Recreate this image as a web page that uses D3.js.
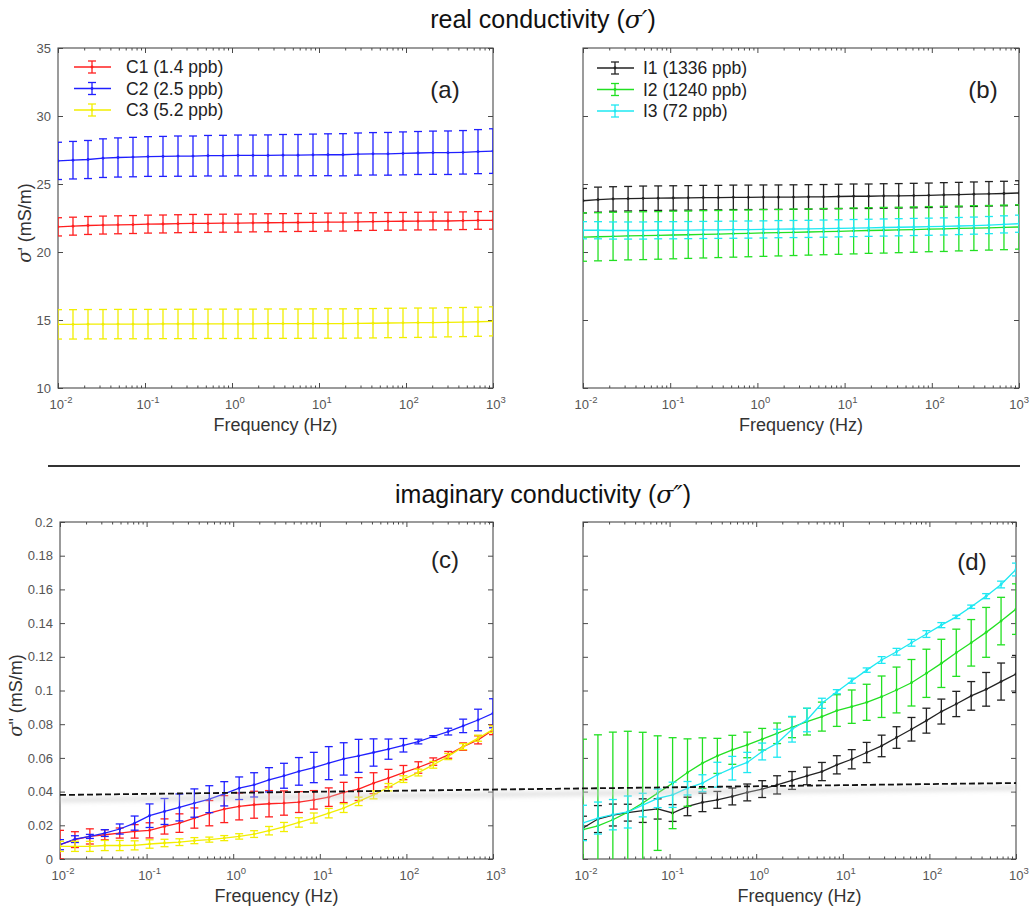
<!DOCTYPE html>
<html>
<head>
<meta charset="utf-8">
<script src="https://cdn.jsdelivr.net/npm/d3@7"></script>
<style>
  body { margin: 0; background: #fff; }
  svg { display: block; font-family: Arial, 'Liberation Sans', sans-serif; }
</style>
</head>
<body>
<svg id="chart" width="1030" height="909"></svg>
<script>
'use strict'

// measurement frequencies (Hz), 30 log-spaced steps from 10^-2 to 10^3
const freqHz = [0.01, 0.01487, 0.02212, 0.0329, 0.04894, 0.07279, 0.1083, 0.161, 0.2395, 0.3562,
  0.5298, 0.788, 1.172, 1.743, 2.593, 3.857, 5.736, 8.532, 12.69, 18.87,
  28.07, 41.75, 62.1, 92.37, 137.4, 204.3, 303.9, 452.0, 672.3, 1000]
const decades = [1e-2, 1e-1, 1e0, 1e1, 1e2, 1e3]
const decadeExp = ['-2', '-1', '0', '1', '2', '3']

// real conductivity sigma' (mS/m)
const c1Real = [21.85, 21.9, 21.95, 21.98, 22.0, 22.02, 22.05, 22.06, 22.08, 22.1, 22.1, 22.12, 22.12, 22.14, 22.15,
  22.16, 22.17, 22.18, 22.2, 22.2, 22.22, 22.24, 22.25, 22.26, 22.27, 22.28, 22.28, 22.3, 22.32, 22.33]
const c1RealErr = [0.67, 0.66, 0.66, 0.66, 0.66, 0.66, 0.66, 0.66, 0.66, 0.66, 0.66, 0.66, 0.66, 0.66, 0.66,
  0.66, 0.66, 0.66, 0.66, 0.66, 0.65, 0.65, 0.65, 0.65, 0.65, 0.65, 0.65, 0.65, 0.65, 0.65]
const c2Real = [26.7, 26.75, 26.8, 26.9, 26.95, 26.98, 27.02, 27.03, 27.05, 27.05, 27.08, 27.08, 27.1, 27.1, 27.1,
  27.12, 27.12, 27.14, 27.15, 27.15, 27.2, 27.22, 27.22, 27.25, 27.28, 27.3, 27.3, 27.33, 27.38, 27.42]
const c2RealErr = [1.37, 1.38, 1.4, 1.42, 1.44, 1.45, 1.46, 1.47, 1.48, 1.48, 1.49, 1.5, 1.5, 1.5, 1.51,
  1.52, 1.52, 1.53, 1.54, 1.55, 1.55, 1.56, 1.57, 1.58, 1.58, 1.59, 1.6, 1.6, 1.62, 1.64]
const c3Real = [14.68, 14.68, 14.69, 14.69, 14.7, 14.7, 14.7, 14.71, 14.71, 14.71, 14.72, 14.72, 14.72, 14.72, 14.73,
  14.73, 14.73, 14.74, 14.74, 14.74, 14.75, 14.76, 14.78, 14.79, 14.8, 14.81, 14.83, 14.85, 14.87, 14.9]
const c3RealErr = [1.08, 1.08, 1.08, 1.08, 1.08, 1.08, 1.08, 1.08, 1.08, 1.08, 1.08, 1.08, 1.08, 1.08, 1.08,
  1.08, 1.08, 1.08, 1.08, 1.08, 1.08, 1.08, 1.08, 1.08, 1.08, 1.07, 1.07, 1.07, 1.07, 1.07]
const i1Real = [23.77, 23.85, 23.9, 23.92, 23.95, 23.96, 23.97, 23.98, 24.0, 24.0, 24.02, 24.02, 24.03, 24.03, 24.04,
  24.05, 24.06, 24.08, 24.1, 24.1, 24.12, 24.13, 24.15, 24.17, 24.2, 24.22, 24.25, 24.28, 24.3, 24.34]
const i1RealErr = [0.9, 0.92, 0.9, 0.9, 0.9, 0.9, 0.9, 0.9, 0.9, 0.9, 0.9, 0.9, 0.9, 0.9, 0.9,
  0.9, 0.9, 0.9, 0.9, 0.9, 0.9, 0.9, 0.9, 0.9, 0.9, 0.9, 0.9, 0.9, 0.9, 0.9]
const i2Real = [21.1, 21.12, 21.15, 21.18, 21.2, 21.22, 21.25, 21.27, 21.3, 21.32, 21.35, 21.37, 21.4, 21.42, 21.45,
  21.47, 21.5, 21.52, 21.55, 21.58, 21.6, 21.62, 21.65, 21.68, 21.7, 21.73, 21.76, 21.78, 21.81, 21.84]
const i2RealErr = [1.78, 1.77, 1.77, 1.76, 1.76, 1.75, 1.75, 1.74, 1.74, 1.73, 1.73, 1.72, 1.72, 1.71, 1.71,
  1.7, 1.7, 1.69, 1.69, 1.68, 1.68, 1.67, 1.67, 1.66, 1.66, 1.65, 1.65, 1.64, 1.64, 1.63]
const i3Real = [21.6, 21.6, 21.58, 21.58, 21.58, 21.6, 21.6, 21.61, 21.62, 21.63, 21.64, 21.65, 21.66, 21.68, 21.69,
  21.7, 21.72, 21.74, 21.76, 21.78, 21.8, 21.82, 21.84, 21.86, 21.88, 21.91, 21.94, 21.98, 22.03, 22.08]
const i3RealErr = [0.63, 0.63, 0.63, 0.63, 0.63, 0.63, 0.63, 0.63, 0.63, 0.63, 0.63, 0.63, 0.63, 0.63, 0.63,
  0.63, 0.63, 0.63, 0.63, 0.63, 0.63, 0.63, 0.63, 0.63, 0.63, 0.63, 0.63, 0.63, 0.63, 0.63]

// imaginary conductivity sigma'' (mS/m)
const c1Imag = [0.0085, 0.0115, 0.0134, 0.0144, 0.0154, 0.0164, 0.017, 0.0193, 0.0213, 0.0243, 0.0272, 0.0296, 0.0312, 0.0322, 0.0328,
  0.0332, 0.0338, 0.0351, 0.0367, 0.0395, 0.0415, 0.045, 0.048, 0.0513, 0.0543, 0.0578, 0.0618, 0.0667, 0.0707, 0.0766]
const c1ImagErr = [0.0085, 0.0047, 0.0045, 0.003, 0.003, 0.004, 0.0045, 0.0045, 0.0055, 0.006, 0.0075, 0.008, 0.008, 0.008, 0.0078,
  0.0072, 0.0062, 0.0055, 0.0055, 0.006, 0.0068, 0.0062, 0.0052, 0.0042, 0.0034, 0.0022, 0.002, 0.0022, 0.0024, 0.0028]
const c2Imag = [0.0085, 0.0118, 0.0134, 0.0154, 0.0178, 0.0213, 0.0257, 0.0282, 0.0306, 0.0332, 0.0355, 0.0387, 0.042, 0.044, 0.047,
  0.0494, 0.052, 0.0543, 0.0569, 0.0594, 0.0612, 0.0632, 0.0652, 0.0675, 0.0697, 0.0727, 0.0756, 0.079, 0.0825, 0.0865]
const c2ImagErr = [0.003, 0.002, 0.0012, 0.002, 0.003, 0.0042, 0.007, 0.0077, 0.008, 0.0084, 0.008, 0.0072, 0.0067, 0.0072, 0.0072,
  0.0074, 0.0082, 0.009, 0.0098, 0.0096, 0.0098, 0.0081, 0.006, 0.004, 0.0014, 0.0005, 0.002, 0.004, 0.0064, 0.0086]
const c3Imag = [0.0075, 0.0075, 0.0075, 0.008, 0.008, 0.0081, 0.0089, 0.0095, 0.01, 0.0109, 0.0115, 0.0124, 0.0134, 0.0148, 0.0168,
  0.019, 0.0217, 0.0243, 0.0272, 0.0302, 0.0342, 0.0381, 0.0426, 0.0474, 0.0513, 0.0559, 0.0608, 0.0667, 0.0717, 0.077]
const c3ImagErr = [0.003, 0.003, 0.003, 0.003, 0.003, 0.0027, 0.0025, 0.0022, 0.002, 0.0018, 0.0015, 0.0015, 0.0016, 0.002, 0.0025,
  0.0027, 0.0028, 0.003, 0.0028, 0.0026, 0.0025, 0.0024, 0.0022, 0.002, 0.002, 0.002, 0.0018, 0.0018, 0.0018, 0.002]
const i1Imag = [0.0184, 0.0237, 0.0261, 0.0275, 0.0287, 0.0297, 0.0273, 0.0312, 0.0336, 0.0351, 0.0371, 0.0395, 0.0415, 0.044, 0.0466,
  0.0493, 0.0519, 0.0559, 0.0592, 0.0632, 0.0671, 0.0721, 0.077, 0.0821, 0.0875, 0.092, 0.0968, 0.1007, 0.1053, 0.1098]
const i1ImagErr = [0.007, 0.008, 0.0065, 0.005, 0.007, 0.006, 0.005, 0.0055, 0.0055, 0.005, 0.005, 0.005, 0.005, 0.0054, 0.0053,
  0.0052, 0.0054, 0.0054, 0.0057, 0.006, 0.0064, 0.0064, 0.007, 0.0074, 0.0074, 0.0075, 0.0085, 0.01, 0.011, 0.011]
const i2Imag = [0.0174, 0.0197, 0.0233, 0.0278, 0.0332, 0.0391, 0.045, 0.0513, 0.0569, 0.0612, 0.0648, 0.0677, 0.0711, 0.0746, 0.0782,
  0.0815, 0.0845, 0.0881, 0.0904, 0.093, 0.0963, 0.1003, 0.1046, 0.1102, 0.1161, 0.1224, 0.1283, 0.1345, 0.1412, 0.1483]
const i2ImagErr = [0.0537, 0.054, 0.052, 0.048, 0.042, 0.034, 0.027, 0.02, 0.015, 0.0104, 0.0086, 0.0076, 0.0064, 0.0061, 0.0062,
  0.0079, 0.0086, 0.0094, 0.0099, 0.0107, 0.0123, 0.0136, 0.0138, 0.0143, 0.0143, 0.014, 0.0138, 0.0148, 0.0141, 0.015]
const i3Imag = [0.0214, 0.0243, 0.0263, 0.0279, 0.032, 0.036, 0.0381, 0.042, 0.045, 0.05, 0.0539, 0.0573, 0.0638, 0.0687, 0.077,
  0.0825, 0.0924, 0.0993, 0.1058, 0.1121, 0.1181, 0.123, 0.1283, 0.1335, 0.1388, 0.1437, 0.1497, 0.156, 0.1629, 0.1718]
const i3ImagErr = [0.0105, 0.0095, 0.009, 0.0095, 0.007, 0.0055, 0.0075, 0.004, 0.005, 0.0074, 0.007, 0.006, 0.005, 0.0083, 0.0076,
  0.007, 0.003, 0.0012, 0.0015, 0.0013, 0.002, 0.002, 0.002, 0.002, 0.0015, 0.001, 0.001, 0.0015, 0.002, 0.0038]

// reference level drawn across (c) and (d): value at 10^-2 Hz in (c), value at 10^3 Hz in (d)
const thresholdStart = 0.038
const thresholdEnd = 0.0451

const sampleNames = ['C1 (1.4 ppb)', 'C2 (2.5 ppb)', 'C3 (5.2 ppb)', 'I1 (1336 ppb)', 'I2 (1240 ppb)', 'I3 (72 ppb)']
const sampleColors = ['#ff1f1f', '#2020ff', '#f2ee00', '#222222', '#22e022', '#1ee8f2']

const makeSeries = (idx, values, errors) => ({ name: sampleNames[idx], color: sampleColors[idx], values, errors })

const panels = [
  {
    id: 'a', tag: '(a)', box: [58, 48, 493, 388], tagAt: [445, 98],
    yDomain: [10, 35], yTicks: [10, 15, 20, 25, 30, 35], yLabels: true, yMark: '\'', yTitleX: 31,
    legendAt: [74, 126, 67],
    series: [makeSeries(0, c1Real, c1RealErr), makeSeries(1, c2Real, c2RealErr), makeSeries(2, c3Real, c3RealErr)]
  },
  {
    id: 'b', tag: '(b)', box: [583, 48, 1019, 388], tagAt: [983, 98],
    yDomain: [10, 35], yTicks: [10, 15, 20, 25, 30, 35], yLabels: false,
    legendAt: [597, 643, 68],
    series: [makeSeries(3, i1Real, i1RealErr), makeSeries(4, i2Real, i2RealErr), makeSeries(5, i3Real, i3RealErr)]
  },
  {
    id: 'c', tag: '(c)', box: [60, 522, 493, 859], tagAt: [445, 568],
    yDomain: [0, 0.2], yTicks: [0, 0.02, 0.04, 0.06, 0.08, 0.1, 0.12, 0.14, 0.16, 0.18, 0.2], yLabels: true, yMark: '"', yTitleX: 22,
    series: [makeSeries(0, c1Imag, c1ImagErr), makeSeries(1, c2Imag, c2ImagErr), makeSeries(2, c3Imag, c3ImagErr)]
  },
  {
    id: 'd', tag: '(d)', box: [583, 522, 1016, 859], tagAt: [972, 570],
    yDomain: [0, 0.2], yTicks: [0, 0.02, 0.04, 0.06, 0.08, 0.1, 0.12, 0.14, 0.16, 0.18, 0.2], yLabels: false,
    series: [makeSeries(3, i1Imag, i1ImagErr), makeSeries(4, i2Imag, i2ImagErr), makeSeries(5, i3Imag, i3ImagErr)]
  }
]

const svg = d3.select('#chart')
const chartWidth = +svg.attr('width')
const axisColor = '#4a4a4a'
const labelColor = '#555'

const minorTicks = []
decades.slice(0, -1).forEach(d => {
  for (let k = 2; k <= 9; k++) minorTicks.push(d * k)
})

function tickAxis (g, axis) {
  g.call(axis)
  g.select('.domain').remove()
  g.selectAll('.tick line').attr('stroke', axisColor)
}

function drawErrorSeries (plot, s, x, y, capHalf) {
  const pts = freqHz.map((f, i) => ({ f, v: s.values[i], e: s.errors[i] }))
  const sg = plot.append('g').attr('stroke', s.color).attr('fill', s.color)

  sg.selectAll('line.bar').data(pts).join('line')
    .attr('class', 'bar')
    .attr('x1', d => x(d.f)).attr('x2', d => x(d.f))
    .attr('y1', d => y(d.v - d.e)).attr('y2', d => y(d.v + d.e))
    .attr('stroke-width', 1.3)

  ;['lo', 'hi'].forEach(side => {
    sg.selectAll('line.cap-' + side).data(pts).join('line')
      .attr('class', 'cap-' + side)
      .attr('x1', d => x(d.f) - capHalf).attr('x2', d => x(d.f) + capHalf)
      .attr('y1', d => y(side === 'lo' ? d.v - d.e : d.v + d.e))
      .attr('y2', d => y(side === 'lo' ? d.v - d.e : d.v + d.e))
      .attr('stroke-width', 1.3)
  })

  const line = d3.line().x(d => x(d.f)).y(d => y(d.v))
  sg.append('path').datum(pts)
    .attr('d', line)
    .attr('fill', 'none')
    .attr('stroke-width', 1.3)

  sg.selectAll('circle').data(pts).join('circle')
    .attr('cx', d => x(d.f)).attr('cy', d => y(d.v))
    .attr('r', 1.4)
    .attr('stroke', 'none')
}

function drawPanel (cfg) {
  const [left, top, right, bottom] = cfg.box
  const x = d3.scaleLog().domain([decades[0], decades[decades.length - 1]]).range([left, right])
  const y = d3.scaleLinear().domain(cfg.yDomain).range([bottom, top])
  const g = svg.append('g').attr('class', 'panel-' + cfg.id)

  g.append('clipPath').attr('id', 'clip-' + cfg.id)
    .append('rect')
    .attr('x', left).attr('y', top)
    .attr('width', right - left).attr('height', bottom - top)

  // inward ticks on all four sides, MATLAB box style
  tickAxis(g.append('g').attr('transform', `translate(0,${bottom})`),
    d3.axisBottom(x).tickValues(decades).tickSizeInner(-5).tickSizeOuter(0).tickFormat(''))
  tickAxis(g.append('g').attr('transform', `translate(0,${bottom})`),
    d3.axisBottom(x).tickValues(minorTicks).tickSizeInner(-2.5).tickSizeOuter(0).tickFormat(''))
  tickAxis(g.append('g').attr('transform', `translate(0,${top})`),
    d3.axisTop(x).tickValues(decades).tickSizeInner(-5).tickSizeOuter(0).tickFormat(''))
  tickAxis(g.append('g').attr('transform', `translate(0,${top})`),
    d3.axisTop(x).tickValues(minorTicks).tickSizeInner(-2.5).tickSizeOuter(0).tickFormat(''))
  tickAxis(g.append('g').attr('transform', `translate(${right},0)`),
    d3.axisRight(y).tickValues(cfg.yTicks).tickSizeInner(-5).tickSizeOuter(0).tickFormat(''))

  const yAxisG = g.append('g').attr('transform', `translate(${left},0)`)
  tickAxis(yAxisG, d3.axisLeft(y).tickValues(cfg.yTicks).tickSizeInner(-5).tickSizeOuter(0).tickPadding(7)
    .tickFormat(cfg.yLabels ? d3.format('~g') : ''))
  yAxisG.selectAll('.tick text')
    .attr('fill', labelColor)
    .style('font-size', '13px')
    .style('font-family', 'Arial, \'Liberation Sans\', sans-serif')

  g.append('rect')
    .attr('x', left).attr('y', top)
    .attr('width', right - left).attr('height', bottom - top)
    .attr('fill', 'none')
    .attr('stroke', axisColor)
    .attr('stroke-width', 1.1)

  // decade labels 10^n
  const xl = g.append('g').attr('fill', labelColor).style('font-size', '13px')
  decades.forEach((d, i) => {
    const t = xl.append('text')
      .attr('x', x(d) + 3).attr('y', bottom + 21)
      .attr('text-anchor', 'middle')
    t.append('tspan').text('10')
    t.append('tspan').attr('dy', -6).style('font-size', '9.5px').text(decadeExp[i])
    // keep the last label inside the picture
    const box = t.node().getBBox()
    if (box.x + box.width > chartWidth - 1) t.attr('x', x(d) - (box.x + box.width - chartWidth + 1) + 3)
  })

  g.append('text')
    .attr('x', (left + right) / 2).attr('y', bottom + 43)
    .attr('text-anchor', 'middle')
    .attr('fill', '#333')
    .style('font-size', '18px')
    .text('Frequency (Hz)')

  if (cfg.yMark) {
    const yt = g.append('text')
      .attr('transform', `translate(${cfg.yTitleX},${(top + bottom) / 2 + 5}) rotate(-90)`)
      .attr('text-anchor', 'middle')
      .attr('fill', '#333')
      .style('font-size', '18px')
    yt.append('tspan').style('font-style', 'italic').style('font-family', '\'DejaVu Serif\', serif').text('σ')
    yt.append('tspan').text(cfg.yMark + ' (mS/m)')
  }

  g.append('text')
    .attr('x', cfg.tagAt[0]).attr('y', cfg.tagAt[1])
    .attr('text-anchor', 'middle')
    .attr('fill', '#222')
    .style('font-size', '24px')
    .text(cfg.tag)

  const plot = g.append('g').attr('clip-path', `url(#clip-${cfg.id})`)
  cfg.series.forEach(s => drawErrorSeries(plot, s, x, y, 4))

  if (cfg.legendAt) {
    const [lx, tx, ly] = cfg.legendAt
    const lg = g.append('g')
    cfg.series.forEach((s, i) => {
      const cy = ly + i * 21.5
      const mid = lx + 18
      const row = lg.append('g').attr('stroke', s.color).attr('stroke-width', 1.3)
      row.append('line').attr('x1', lx).attr('x2', lx + 37).attr('y1', cy).attr('y2', cy)
      row.append('line').attr('x1', mid).attr('x2', mid).attr('y1', cy - 6).attr('y2', cy + 6)
      row.append('line').attr('x1', mid - 4).attr('x2', mid + 4).attr('y1', cy - 6).attr('y2', cy - 6)
      row.append('line').attr('x1', mid - 4).attr('x2', mid + 4).attr('y1', cy + 6).attr('y2', cy + 6)
      row.append('circle').attr('cx', mid).attr('cy', cy).attr('r', 1.4).attr('fill', s.color).attr('stroke', 'none')
      lg.append('text')
        .attr('x', tx).attr('y', cy + 6)
        .attr('fill', '#222')
        .style('font-size', '17.5px')
        .text(s.name)
    })
  }

  return { x, y }
}

const scales = panels.map(drawPanel)

// section titles and separator
const titleFont = '25px'
const realTitle = svg.append('text').attr('x', 543).attr('y', 28).attr('text-anchor', 'middle')
  .attr('fill', '#111').style('font-size', titleFont)
realTitle.append('tspan').text('real conductivity (')
realTitle.append('tspan').style('font-style', 'italic').style('font-family', '\'DejaVu Serif\', serif').text('σ′')
realTitle.append('tspan').text(')')

const imagTitle = svg.append('text').attr('x', 543).attr('y', 503).attr('text-anchor', 'middle')
  .attr('fill', '#111').style('font-size', titleFont)
imagTitle.append('tspan').text('imaginary conductivity (')
imagTitle.append('tspan').style('font-style', 'italic').style('font-family', '\'DejaVu Serif\', serif').text('σ″')
imagTitle.append('tspan').text(')')

svg.append('line')
  .attr('x1', 48).attr('x2', 1020).attr('y1', 466).attr('y2', 466)
  .attr('stroke', '#333').attr('stroke-width', 2)

// dashed reference line from (c) into (d), with its soft grey shadow
const cScale = scales[2]
const dScale = scales[3]
const refLine = [
  [cScale.x(decades[0]), cScale.y(thresholdStart)],
  [dScale.x(decades[decades.length - 1]), dScale.y(thresholdEnd)]
]
const defs = svg.append('defs')
defs.append('filter').attr('id', 'soft').attr('x', '-5%').attr('y', '-200%').attr('width', '110%').attr('height', '500%')
  .append('feGaussianBlur').attr('stdDeviation', 2)

svg.append('line')
  .attr('x1', refLine[0][0]).attr('y1', refLine[0][1] + 5)
  .attr('x2', refLine[1][0]).attr('y2', refLine[1][1] + 5)
  .attr('stroke', '#c8c8c8').attr('stroke-width', 5)
  .attr('opacity', 0.5)
  .attr('filter', 'url(#soft)')
svg.append('line')
  .attr('x1', refLine[0][0]).attr('y1', refLine[0][1])
  .attr('x2', refLine[1][0]).attr('y2', refLine[1][1])
  .attr('stroke', '#111').attr('stroke-width', 1.8)
  .attr('stroke-dasharray', '6,3')
</script>
</body>
</html>
